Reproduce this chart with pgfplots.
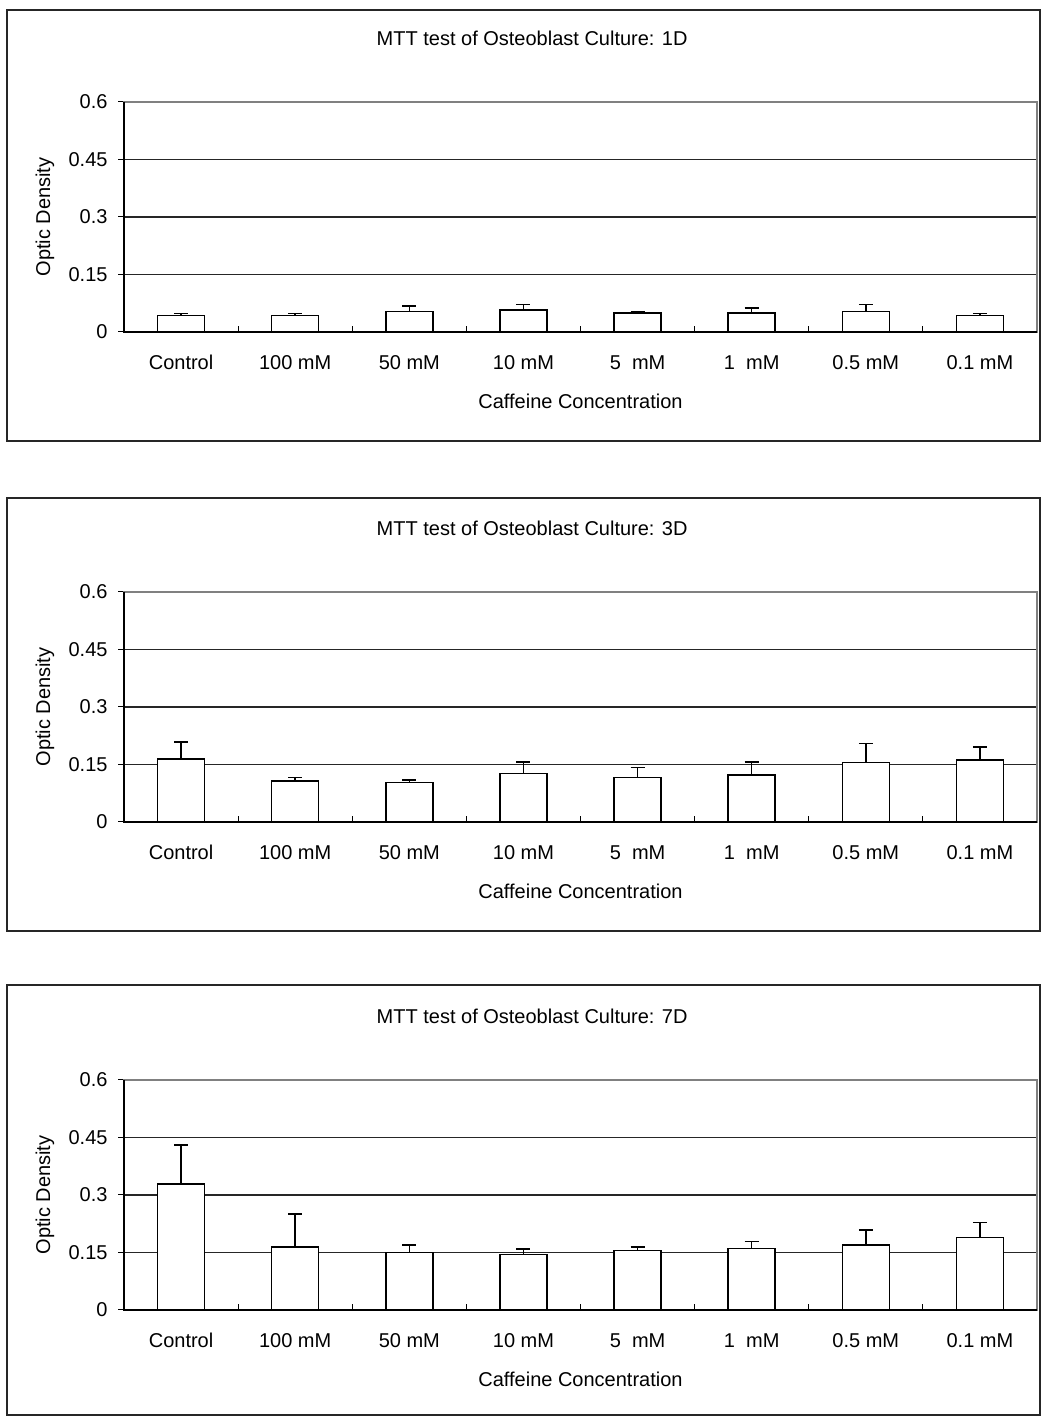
\documentclass[border=0pt]{standalone}
\usepackage{fontspec}
\setmainfont{Liberation Sans}
\usepackage{pgfplots}
\usepackage{pgfplotstable}
\pgfplotsset{compat=1.18}

% x = category index, y = mean optic density, e = upper error
\pgfplotstableread{
x y e
0 0.0435 0.0045
1 0.0435 0.0045
2 0.053 0.015
3 0.058 0.014
4 0.049 0.003
5 0.049 0.014
6 0.053 0.019
7 0.0435 0.0045
}\dayone

\pgfplotstableread{
x y e
0 0.165 0.044
1 0.107 0.009
2 0.103 0.007
3 0.127 0.029
4 0.1165 0.0255
5 0.123 0.033
6 0.155 0.050
7 0.161 0.034
}\daythree

\pgfplotstableread{
x y e
0 0.329 0.101
1 0.164 0.087
2 0.150 0.020
3 0.145 0.014
4 0.155 0.009
5 0.160 0.019
6 0.170 0.038
7 0.189 0.039
}\dayseven

\pgfplotsset{
  mtt/.style={
    scale only axis,
    width=456.5pt, height=115pt,
    anchor=south west,
    ybar, bar width=23.5pt,
    xmin=-0.5, xmax=7.5, ymin=0, ymax=0.6,
    xtick={-0.5,0.5,...,7.5},
    x tick label as interval,
    xticklabels={Control,100 mM,50 mM,10 mM,5~~mM,1~~mM,0.5 mM,0.1 mM},
    xtick pos=bottom, ytick pos=left,
    ytick={0,0.15,0.3,0.45,0.6},
    yticklabels={0,0.15,0.3,0.45,0.6},
    tick align=outside, major tick length=3pt,
    xtick style={yshift=3pt, black, line width=0.5pt},
    ytick style={black, line width=0.5pt},
    ymajorgrids, xmajorgrids=false,
    major grid style={black!85, line width=0.6pt},
    axis line style={gray, line width=0.8pt},
    xticklabel style={anchor=base, yshift=-16pt},
    yticklabel style={xshift=-1.7pt},
    title style={at={(axis description cs:0.447,1.226)}, anchor=center, inner sep=0pt},
    xlabel={Caffeine Concentration},
    xlabel style={at={(axis description cs:0.5,-0.30)}, anchor=center},
    ylabel={Optic Density},
    ylabel style={at={(axis description cs:-0.0865,0.5)}, anchor=center},
    after end axis/.code={
      \draw[black, line width=0.8pt] (rel axis cs:0,1) -- (rel axis cs:0,0) -- (rel axis cs:1,0);
    },
  },
  mttbar/.style={
    fill=white, draw=black, line width=0.8pt,
    error bars/.cd, y dir=plus, y explicit,
    error bar style={black, line width=0.8pt},
    error mark options={rotate=90, mark size=3.5pt, line width=0.8pt},
  },
}

\begin{document}
\begin{tikzpicture}
\useasboundingbox (0,0) rectangle (521.5pt,708pt);
\draw[black!85, line width=0.9pt] (3.5pt,487.5pt) rectangle (520pt,703pt);
\draw[black!85, line width=0.9pt] (3.5pt,242.5pt) rectangle (520pt,459pt);
\draw[black!85, line width=0.9pt] (3.5pt,0.5pt) rectangle (520pt,215.5pt);

\begin{axis}[mtt, at={(62pt,542pt)}, title={MTT test of Osteoblast Culture: 1D}]
\addplot[mttbar] table[x=x, y=y, y error=e] {\dayone};
\end{axis}

\begin{axis}[mtt, at={(62pt,297pt)}, title={MTT test of Osteoblast Culture: 3D}]
\addplot[mttbar] table[x=x, y=y, y error=e] {\daythree};
\end{axis}

\begin{axis}[mtt, at={(62pt,53pt)}, title={MTT test of Osteoblast Culture: 7D}]
\addplot[mttbar] table[x=x, y=y, y error=e] {\dayseven};
\end{axis}
\end{tikzpicture}
\end{document}
